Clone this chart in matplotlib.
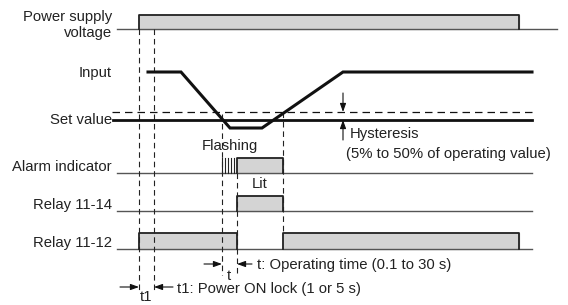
import matplotlib.pyplot as plt

plt.rcParams['font.family'] = ['Liberation Sans', 'DejaVu Sans']

# time marks (x positions on the diagram)
t_on = 139          # power applied
t_lock = 154        # end of power ON lock
t_cross = 222       # input drops below set value
t_operate = 237     # relay operates after t
t_reset = 283       # input back over set value + hysteresis
t_off = 519         # power removed
x_start, x_end = 117, 532

# signal levels (y positions, downwards)
rows = {'power': 29, 'alarm': 173, 'r14': 211, 'r12': 249}
input_x = [148, 181, 230, 262, 343, 532]
input_y = [72, 72, 128, 128, 72, 72]
set_value_y = 120
hyst_y = 112
flash_x = [222, 225, 228, 231, 234]

labels = [('Power supply', 17), ('voltage', 33), ('Input', 73), ('Set value', 120),
          ('Alarm indicator', 167), ('Relay 11-14', 205), ('Relay 11-12', 243)]

fig = plt.figure(figsize=(5.68, 3.05), dpi=100)
ax = fig.add_axes([0, 0, 1, 1])
ax.set_xlim(0, 568)
ax.set_ylim(305, 0)
ax.axis('off')

fill = '#d4d4d4'
edge = '#222222'
base = '#555555'
tc = '#222222'
fs = 10.7


def box(x0, x1, yb, h):
    ax.fill([x0, x0, x1, x1], [yb, yb - h, yb - h, yb], color=fill, zorder=1)
    ax.plot([x0, x0, x1, x1], [yb, yb - h, yb - h, yb], color=edge, lw=1.3, zorder=3)


def vdash(x, y0, y1):
    ax.plot([x, x], [y0, y1], color='#222222', lw=0.8, dashes=(5, 3.5), zorder=2)


# baselines
ax.plot([x_start, 557], [rows['power']] * 2, color=base, lw=1.0)
for r in ['alarm', 'r14', 'r12']:
    ax.plot([x_start, x_end], [rows[r]] * 2, color=base, lw=1.0)

# power supply
box(t_on, t_off, rows['power'], 14)

# input and set value
ax.plot(input_x, input_y, color='#111111', lw=2.2, solid_joinstyle='miter', zorder=4)
ax.plot([113, x_end], [set_value_y] * 2, color='#111111', lw=2.0, zorder=3)
ax.plot([112, x_end], [hyst_y] * 2, color='#111111', lw=0.9, dashes=(6, 4))

# alarm indicator
for fx in flash_x:
    ax.plot([fx, fx], [rows['alarm'], rows['alarm'] - 15], color=edge, lw=0.8, zorder=3)
box(t_operate, t_reset, rows['alarm'], 15)

# relays
box(t_operate, t_reset, rows['r14'], 15)
box(t_on, t_operate, rows['r12'], 16)
box(t_reset, t_off, rows['r12'], 16)

# dashed guides
vdash(t_on, 29, 292)
vdash(t_lock, 29, 292)
vdash(t_cross, 114, 275)
vdash(t_operate, 173, 275)
vdash(t_reset, 112, 233)

# labels
for txt, y in labels:
    ax.text(112, y, txt, ha='right', va='center', fontsize=fs, color=tc)
ax.text(230, 146, 'Flashing', ha='center', va='center', fontsize=fs, color=tc)
ax.text(260, 184, 'Lit', ha='center', va='center', fontsize=fs, color=tc)

# hysteresis arrows
ap = dict(arrowstyle='-|>,head_length=0.5,head_width=0.18', color='#111111', lw=0.8,
          shrinkA=0, shrinkB=0)
ax.annotate('', xy=(343, hyst_y), xytext=(343, 93), arrowprops=ap)
ax.annotate('', xy=(343, set_value_y), xytext=(343, 140), arrowprops=ap)
ax.text(350, 134, 'Hysteresis', ha='left', va='center', fontsize=fs, color=tc)
ax.text(346, 154, '(5% to 50% of operating value)', ha='left', va='center', fontsize=fs,
        color=tc)

# operating time
ax.annotate('', xy=(t_cross, 264), xytext=(204, 264), arrowprops=ap)
ax.annotate('', xy=(t_operate, 264), xytext=(252, 264), arrowprops=ap)
ax.text(229, 276, 't', ha='center', va='center', fontsize=fs, color=tc)
ax.text(257, 265, 't: Operating time (0.1 to 30 s)', ha='left', va='center', fontsize=fs,
        color=tc)

# power ON lock
ax.annotate('', xy=(t_on, 287), xytext=(120, 287), arrowprops=ap)
ax.annotate('', xy=(t_lock, 287), xytext=(173, 287), arrowprops=ap)
ax.text(146, 304, 't1', ha='center', va='bottom', fontsize=fs, color=tc)
ax.text(177, 289, 't1: Power ON lock (1 or 5 s)', ha='left', va='center', fontsize=fs,
        color=tc)

fig.savefig('out.png', dpi=100)
